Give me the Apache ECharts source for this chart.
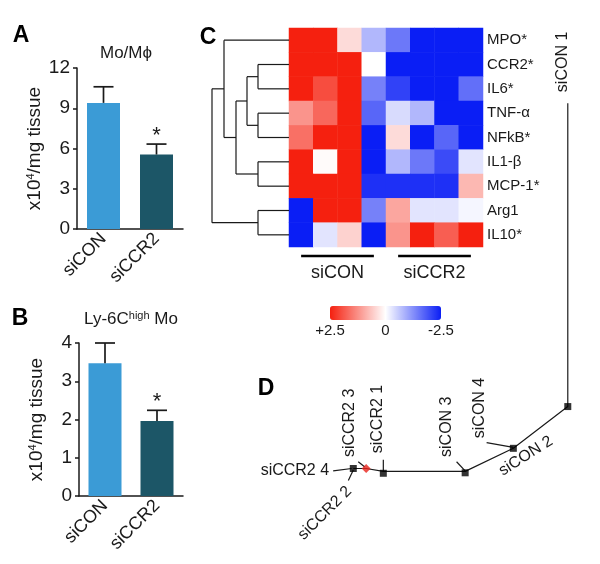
<!DOCTYPE html>
<html><head><meta charset="utf-8">
<script src="https://cdn.jsdelivr.net/npm/echarts@6/dist/echarts.min.js"></script>
<style>html,body{margin:0;padding:0;background:#fff}#c{width:600px;height:564px}</style>
</head><body><div id="c"></div>
<script>
// ---------- Data ----------
const groups = ['siCON', 'siCCR2'];
const moMean = [9.4, 5.55];
const moUpper = [10.6, 6.33];
const moSig = [0, 1];
const lyMean = [3.47, 1.96];
const lyUpper = [4.0, 2.24];
const lySig = [0, 1];

const genes = ['MPO*', 'CCR2*', 'IL6*', 'TNF-α', 'NFkB*', 'IL1-β', 'MCP-1*', 'Arg1', 'IL10*'];
const samples = ['S1', 'S2', 'S3', 'S4', 'S5', 'S6', 'S7', 'S8'];
const expr = [
  [ 2.5,  2.5,  0.4, -0.8, -1.5, -2.5, -2.5, -2.5],
  [ 2.5,  2.5,  2.5,  0.0, -2.5, -2.5, -2.5, -2.5],
  [ 2.5,  2.0,  2.5, -1.4, -2.1, -2.5, -2.5, -1.6],
  [ 1.2,  1.7,  2.5, -1.7, -0.4, -0.8, -2.5, -2.5],
  [ 1.6,  2.5,  2.5, -2.5,  0.4, -2.5, -1.7, -2.5],
  [ 2.5,  0.05, 2.5, -2.5, -0.8, -1.5, -2.0, -0.3],
  [ 2.5,  2.5,  2.5, -2.3, -2.3, -2.3, -2.3,  0.8],
  [-2.5,  2.5,  2.5, -1.4,  1.0, -0.3, -0.3, -0.1],
  [-2.5, -0.3,  0.5, -2.5,  1.2,  2.5,  1.8,  2.5]
];
const groupSpans = [[0, 3], [4, 7]];
const colorTicks = [2.5, 0, -2.5];
const colorTickText = ['+2.5', '0', '-2.5'];

// dendrogram linkage: [childA, childB, height]; leaves 0..8, clusters 9..
const linkage = [
  [1, 2, 31], [3, 4, 31], [9, 10, 42], [5, 6, 31],
  [11, 12, 53], [0, 13, 65], [7, 8, 31], [14, 15, 77]
];

// panel D tree (arbitrary layout units)
const treePath = [[31.3, 14.9], [35.2, 14.9], [40.4, 14.3], [65.2, 14.3], [79.8, 19.1], [96.3, 27.8], [96.3, 91.0]];
const treeNodes = [[31.3, 14.9], [35.2, 14.9], [40.4, 13.9], [65.2, 14.0], [79.8, 19.1], [96.3, 27.8]];
const treeNodeRed = [0, 1, 0, 0, 0, 0];
const leaders = [
  [25.2, 14.4, 30.8, 14.9], [29.8, 12.4, 31.3, 14.6], [32.8, 16.3, 34.8, 15.2],
  [40.4, 16.7, 40.4, 14.4], [62.6, 16.3, 65.2, 14.4], [71.7, 20.3, 79.8, 19.3]
];
const treeLabels = ['siCCR2 4', 'siCCR2 2', 'siCCR2 3', 'siCCR2 1', 'siCON 3', 'siCON 4', 'siCON 2', 'siCON 1'];
const treeLabelPos = [[13.6, 14.4], [22.7, 5.6], [30.3, 24.4], [38.6, 25.2], [59.6, 23.6], [69.7, 27.5], [83.6, 17.5], [94.8, 99.6]];
const treeLabelRot = [0, 45, 90, 90, 90, 90, 32.5, 90];

// ---------- Styles ----------
const FONT = '"Liberation Sans", Arial, sans-serif';
const INK = '#1a1a1a';
const BAR_COLORS = ['#3b9bd6', '#1c5667'];
const RED = '#f5200f', BLUE = '#0a1ef5';
const HM = {left: 289, top: 28, width: 194, height: 219};
const CB = {left: 330, top: 306, len: 111, thick: 14};

// ---------- Helpers ----------
function barAxisX(gi) {
  return {type: 'category', gridIndex: gi, data: groups,
    axisLine: {lineStyle: {color: INK, width: 1.5}}, axisTick: {show: false},
    axisLabel: {rotate: 45, fontSize: 18, color: INK, margin: 7, fontFamily: FONT}};
}
function barAxisY(gi, max, interval, gap) {
  return {type: 'value', gridIndex: gi, min: 0, max: max, interval: interval,
    name: 'x10{sup|4}/mg tissue', nameLocation: 'middle', nameRotate: 90, nameGap: gap,
    nameTextStyle: {fontSize: 19, color: INK, fontFamily: FONT,
      rich: {sup: {fontSize: 11, verticalAlign: 'top', color: INK, fontFamily: FONT}}},
    axisLine: {show: true, lineStyle: {color: INK, width: 1.5}},
    axisTick: {show: true, length: 4, lineStyle: {color: INK, width: 1.5}},
    splitLine: {show: false},
    axisLabel: {fontSize: 19, color: INK, margin: 7, fontFamily: FONT}};
}
function errSeries(ax, means, uppers, sig) {
  return {type: 'custom', xAxisIndex: ax, yAxisIndex: ax, z: 5,
    data: means.map((m, i) => [i, m, uppers[i], sig[i]]),
    renderItem: function (params, api) {
      const p0 = api.coord([api.value(0), api.value(1)]);
      const p1 = api.coord([api.value(0), api.value(2)]);
      const st = {stroke: INK, lineWidth: 1.7};
      const ch = [
        {type: 'line', shape: {x1: p0[0], y1: p0[1], x2: p1[0], y2: p1[1]}, style: st},
        {type: 'line', shape: {x1: p1[0] - 10, y1: p1[1], x2: p1[0] + 10, y2: p1[1]}, style: st}
      ];
      if (api.value(3)) ch.push({type: 'text', x: p1[0], y: p1[1] - 8,
        style: {text: '*', fontSize: 22, fontFamily: FONT, fill: INK, align: 'center', verticalAlign: 'middle'}});
      return {type: 'group', children: ch};
    }};
}
function dendroSegments() {
  const pos = {};
  for (let i = 0; i < genes.length; i++) pos[i] = {y: i, h: 0};
  const segs = [];
  linkage.forEach((l, k) => {
    const a = pos[l[0]], b = pos[l[1]], h = l[2];
    segs.push([a.h, a.y, h, a.y]);
    segs.push([b.h, b.y, h, b.y]);
    segs.push([h, a.y, h, b.y]);
    pos[genes.length + k] = {y: (a.y + b.y) / 2, h: h};
  });
  return segs;
}
const lineRender = function (params, api) {
  const p0 = api.coord([api.value(0), api.value(1)]);
  const p1 = api.coord([api.value(2), api.value(3)]);
  return {type: 'line', shape: {x1: p0[0], y1: p0[1], x2: p1[0], y2: p1[1]},
    style: {stroke: INK, lineWidth: 1.2}};
};

// heatmap data
const hmData = [];
expr.forEach((row, r) => row.forEach((v, c) => hmData.push([c, r, v])));

// graphics
const colW = HM.width / samples.length;
const graphics = [
  {type: 'text', x: 21, y: 36, style: {text: 'A', fontSize: 23, fontWeight: 'bold', fontFamily: FONT, fill: '#000', align: 'center', verticalAlign: 'middle'}},
  {type: 'text', x: 20, y: 319, style: {text: 'B', fontSize: 23, fontWeight: 'bold', fontFamily: FONT, fill: '#000', align: 'center', verticalAlign: 'middle'}},
  {type: 'text', x: 208, y: 38, style: {text: 'C', fontSize: 23, fontWeight: 'bold', fontFamily: FONT, fill: '#000', align: 'center', verticalAlign: 'middle'}},
  {type: 'text', x: 266, y: 389, style: {text: 'D', fontSize: 23, fontWeight: 'bold', fontFamily: FONT, fill: '#000', align: 'center', verticalAlign: 'middle'}},
  {type: 'text', x: 126, y: 53, style: {text: 'Mo/Mϕ', fontSize: 17, fontFamily: FONT, fill: INK, align: 'center', verticalAlign: 'middle'}},
  {type: 'text', x: 131, y: 319, style: {text: 'Ly-6C{sup|high} Mo', fontSize: 17, fontFamily: FONT, fill: INK, align: 'center', verticalAlign: 'middle',
    rich: {sup: {fontSize: 11, verticalAlign: 'top', fontFamily: FONT, fill: INK}}}}
];
groupSpans.forEach((s, i) => {
  const x1 = HM.left + (s[0] + 0.5) * colW, x2 = HM.left + (s[1] + 0.5) * colW;
  graphics.push({type: 'line', shape: {x1: x1, y1: 256, x2: x2, y2: 256}, style: {stroke: '#000', lineWidth: 2.5}});
  graphics.push({type: 'text', x: (x1 + x2) / 2, y: 273, style: {text: groups[i], fontSize: 18, fontFamily: FONT, fill: INK, align: 'center', verticalAlign: 'middle'}});
});
colorTicks.forEach((v, i) => {
  graphics.push({type: 'text', x: CB.left + (2.5 - v) / 5 * CB.len, y: 331,
    style: {text: colorTickText[i], fontSize: 15, fontFamily: FONT, fill: INK, align: 'center', verticalAlign: 'middle'}});
});

const option = {
  animation: false,
  textStyle: {fontFamily: FONT},
  grid: [
    {left: 77, top: 68, width: 106, height: 161},
    {left: 79, top: 343, width: 104, height: 153},
    {left: HM.left, top: HM.top, width: HM.width, height: HM.height},
    {left: 212, top: 28, width: 77, height: 219},
    {left: 250, top: 60, width: 330, height: 480}
  ],
  xAxis: [
    barAxisX(0), barAxisX(1),
    {type: 'category', gridIndex: 2, data: samples, show: false},
    {type: 'value', gridIndex: 3, min: 0, max: 77, inverse: true, show: false},
    {type: 'value', gridIndex: 4, min: 0, max: 100, show: false}
  ],
  yAxis: [
    barAxisY(0, 12, 3, 33), barAxisY(1, 4, 1, 33),
    {type: 'category', gridIndex: 2, data: genes, inverse: true, position: 'right',
      axisLine: {show: false}, axisTick: {show: false},
      axisLabel: {fontSize: 15, color: INK, margin: 4, fontFamily: FONT}},
    {type: 'value', gridIndex: 3, min: -0.5, max: 8.5, inverse: true, show: false},
    {type: 'value', gridIndex: 4, min: 0, max: 100, show: false}
  ],
  visualMap: {
    type: 'continuous', seriesIndex: 4, min: -2.5, max: 2.5, calculable: false,
    orient: 'horizontal', inverse: true, left: CB.left, top: CB.top,
    itemWidth: CB.thick, itemHeight: CB.len, text: null, padding: 0,
    inRange: {color: [BLUE, '#ffffff', RED]}
  },
  series: [
    {type: 'bar', xAxisIndex: 0, yAxisIndex: 0, barWidth: 33,
      data: moMean.map((v, i) => ({value: v, itemStyle: {color: BAR_COLORS[i]}}))},
    errSeries(0, moMean, moUpper, moSig),
    {type: 'bar', xAxisIndex: 1, yAxisIndex: 1, barWidth: 33,
      data: lyMean.map((v, i) => ({value: v, itemStyle: {color: BAR_COLORS[i]}}))},
    errSeries(1, lyMean, lyUpper, lySig),
    {type: 'heatmap', xAxisIndex: 2, yAxisIndex: 2, data: hmData,
      itemStyle: {borderWidth: 0}, emphasis: {disabled: true}},
    {type: 'custom', xAxisIndex: 3, yAxisIndex: 3, data: dendroSegments(), renderItem: lineRender},
    {type: 'line', xAxisIndex: 4, yAxisIndex: 4, data: treePath, showSymbol: false, symbol: 'none',
      lineStyle: {color: INK, width: 1.2}},
    {type: 'custom', xAxisIndex: 4, yAxisIndex: 4, data: leaders, renderItem: lineRender},
    {type: 'scatter', xAxisIndex: 4, yAxisIndex: 4, z: 6,
      data: treeNodes.map((p, i) => ({value: p, symbol: treeNodeRed[i] ? 'diamond' : 'rect',
        symbolSize: treeNodeRed[i] ? 9 : 7, itemStyle: {color: treeNodeRed[i] ? '#e8231b' : '#000'}}))},
    {type: 'custom', xAxisIndex: 4, yAxisIndex: 4, data: treeLabelPos,
      renderItem: function (params, api) {
        const p = api.coord([api.value(0), api.value(1)]);
        const i = params.dataIndex;
        return {type: 'text', x: p[0], y: p[1], rotation: treeLabelRot[i] * Math.PI / 180,
          style: {text: treeLabels[i], fontSize: 16, fontFamily: FONT, fill: INK, align: 'center', verticalAlign: 'middle'}};
      }}
  ],
  graphic: graphics
};
const chart = echarts.init(document.getElementById('c'));
chart.setOption(option);
</script></body></html>
